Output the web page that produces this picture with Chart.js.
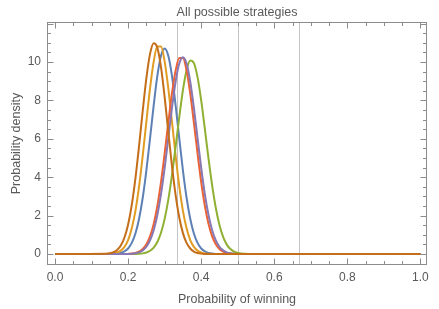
<!DOCTYPE html>
<html>
<head>
<meta charset="utf-8">
<script src="https://cdn.jsdelivr.net/npm/chart.js@4.4.1/dist/chart.umd.min.js"></script>
<style>
  html, body { margin: 0; padding: 0; background: #fff; }
</style>
</head>
<body>
<canvas id="c" width="439" height="309"></canvas>
<script>
// All possible strategies - density of the probability of winning

const xs = [0,
  0.14, 0.15, 0.16, 0.17, 0.18, 0.19, 0.20, 0.21, 0.22, 0.23,
  0.24, 0.25, 0.26, 0.27, 0.28, 0.29, 0.30, 0.31, 0.32, 0.33,
  0.34, 0.35, 0.36, 0.37, 0.38, 0.39, 0.40, 0.41, 0.42, 0.43,
  0.44, 0.45, 0.46, 0.47, 0.48, 0.49, 0.50, 0.51, 0.52, 0.53, 0.54,
  1];

const blueVals = [0,
  0.001, 0.003, 0.009, 0.025, 0.061, 0.14, 0.29, 0.58, 1.07, 1.84,
  2.93, 4.36, 6.02, 7.74, 9.27, 10.32, 10.70, 10.32, 9.27, 7.74,
  6.02, 4.36, 2.93, 1.84, 1.07, 0.58, 0.29, 0.14, 0.061, 0.025,
  0.009, 0.003, 0.001, 0, 0, 0, 0, 0, 0, 0, 0,
  0];

const orangeVals = [0,
  0.004, 0.012, 0.032, 0.078, 0.18, 0.375, 0.73, 1.34, 2.25, 3.52,
  5.12, 6.90, 8.63, 10.02, 10.80, 10.80, 10.02, 8.63, 6.90, 5.12,
  3.52, 2.25, 1.34, 0.73, 0.375, 0.18, 0.078, 0.032, 0.012, 0.004,
  0.001, 0, 0, 0, 0, 0, 0, 0, 0, 0, 0,
  0];

const greenVals = [0,
  0, 0, 0, 0, 0, 0, 0, 0.002, 0.006, 0.014,
  0.035, 0.079, 0.17, 0.34, 0.63, 1.11, 1.83, 2.83, 4.11, 5.59,
  7.12, 8.53, 9.57, 10.07, 9.94, 9.21, 8.00, 6.51, 4.98, 3.57,
  2.40, 1.51, 0.89, 0.49, 0.26, 0.126, 0.058, 0.025, 0.010, 0.004, 0.001,
  0];

const redVals = [0,
  0, 0, 0, 0, 0.001, 0.003, 0.009, 0.023, 0.056, 0.124,
  0.26, 0.51, 0.92, 1.57, 2.51, 3.75, 5.24, 6.84, 8.36, 9.55,
  10.21, 10.21, 9.55, 8.36, 6.84, 5.24, 3.75, 2.51, 1.57, 0.92,
  0.51, 0.26, 0.124, 0.056, 0.023, 0.009, 0.003, 0.001, 0, 0, 0,
  0];

const purpleVals = [0,
  0, 0, 0, 0, 0.001, 0.002, 0.006, 0.016, 0.039, 0.088,
  0.19, 0.38, 0.71, 1.24, 2.03, 3.12, 4.49, 6.04, 7.61, 8.98,
  9.92, 10.25, 9.92, 8.98, 7.61, 6.04, 4.49, 3.12, 2.03, 1.24,
  0.71, 0.38, 0.19, 0.088, 0.039, 0.016, 0.006, 0.002, 0.001, 0, 0,
  0];

const brownVals = [0,
  0.015, 0.039, 0.094, 0.21, 0.44, 0.86, 1.54, 2.56, 3.94, 5.63,
  7.46, 9.16, 10.42, 10.98, 10.74, 9.73, 8.17, 6.36, 4.59, 3.07,
  1.90, 1.09, 0.58, 0.29, 0.13, 0.056, 0.022, 0.008, 0.003, 0.001,
  0, 0, 0, 0, 0, 0, 0, 0, 0, 0, 0,
  0];

const xTicks = [0, 0.2, 0.4, 0.6, 0.8, 1.0];
const yTicks = [0, 2, 4, 6, 8, 10];
const gridX = [1 / 3, 0.5, 2 / 3];

const textColor = '#595959';
const fontFamily = "'Liberation Sans', Arial, sans-serif";

function pts(vals) {
    return xs.map((x, i) => ({ x: x, y: vals[i] }));
}

// first dataset is drawn on top, so the last Mathematica series goes first
const series = [
    { label: 's6', vals: brownVals, color: '#C56E1A' },
    { label: 's5', vals: purpleVals, color: '#8778B3' },
    { label: 's4', vals: redVals, color: '#EB6235' },
    { label: 's3', vals: greenVals, color: '#8FB032' },
    { label: 's2', vals: orangeVals, color: '#E19C24' },
    { label: 's1', vals: blueVals, color: '#5E81B5' }
];

// frame, inward ticks and the reference grid lines
const framePlugin = {
    id: 'frame',
    beforeDatasetsDraw(chart) {
        const { ctx, chartArea: a, scales } = chart;
        ctx.save();
        ctx.strokeStyle = '#c4c4c4';
        ctx.lineWidth = 1;
        gridX.forEach(v => {
            const px = Math.round(scales.x.getPixelForValue(v)) + 0.5;
            ctx.beginPath();
            ctx.moveTo(px, a.top);
            ctx.lineTo(px, a.bottom);
            ctx.stroke();
        });
        ctx.restore();
    },
    afterDatasetsDraw(chart) {
        const { ctx, chartArea: a, scales } = chart;
        ctx.save();
        ctx.strokeStyle = '#8c8c8c';
        ctx.lineWidth = 1;
        const L = Math.round(a.left) + 0.5, R = Math.round(a.right) - 0.5;
        const T = Math.round(a.top) + 0.5, B = Math.round(a.bottom) - 0.5;
        ctx.strokeRect(L, T, R - L, B - T);

        ctx.beginPath();
        for (let k = 0; k <= 20; k++) {
            const v = k * 0.05;
            const major = k % 4 === 0;
            const len = major ? 6 : 3.5;
            const px = Math.round(scales.x.getPixelForValue(v)) + 0.5;
            ctx.moveTo(px, B); ctx.lineTo(px, B - len);
            ctx.moveTo(px, T); ctx.lineTo(px, T + len);
        }
        for (let k = -1; k <= 24; k++) {
            const v = k * 0.5;
            if (v < scales.y.min || v > scales.y.max) continue;
            const major = k % 4 === 0;
            const len = major ? 6 : 3.5;
            const py = Math.round(scales.y.getPixelForValue(v)) + 0.5;
            ctx.moveTo(L, py); ctx.lineTo(L + len, py);
            ctx.moveTo(R, py); ctx.lineTo(R - len, py);
        }
        ctx.stroke();
        ctx.restore();
    }
};

new Chart(document.getElementById('c').getContext('2d'), {
    type: 'line',
    data: {
        datasets: series.map(s => ({
            label: s.label,
            data: pts(s.vals),
            borderColor: s.color,
            backgroundColor: s.color,
            borderWidth: 2,
            pointRadius: 0,
            fill: false,
            cubicInterpolationMode: 'monotone'
        }))
    },
    options: {
        responsive: false,
        animation: false,
        layout: { padding: { left: 0, right: 12, top: 0, bottom: 0 } },
        plugins: {
            legend: { display: false },
            tooltip: { enabled: false },
            title: {
                display: true,
                text: 'All possible strategies',
                fullSize: false,
                color: textColor,
                font: { family: fontFamily, size: 12.5, weight: 'normal' },
                padding: { top: 5, bottom: 2 }
            }
        },
        scales: {
            x: {
                type: 'linear',
                min: -0.022,
                max: 1.018,
                afterBuildTicks: scale => { scale.ticks = xTicks.map(v => ({ value: v })); },
                afterFit: scale => { scale.height = 44; },
                grid: { display: false, drawTicks: false },
                border: { display: false },
                ticks: {
                    color: textColor,
                    font: { family: fontFamily, size: 12 },
                    padding: 5,
                    maxRotation: 0,
                    callback: v => v.toFixed(1)
                },
                title: {
                    display: true,
                    text: 'Probability of winning',
                    color: textColor,
                    font: { family: fontFamily, size: 12.5 },
                    padding: { top: 0, bottom: 2 }
                }
            },
            y: {
                type: 'linear',
                min: -0.57,
                max: 12.08,
                afterBuildTicks: scale => { scale.ticks = yTicks.map(v => ({ value: v })); },
                afterFit: scale => { scale.width = 47; },
                grid: { display: false, drawTicks: false },
                border: { display: false },
                ticks: {
                    color: textColor,
                    font: { family: fontFamily, size: 12 },
                    padding: 6,
                    callback: v => String(v)
                },
                title: {
                    display: true,
                    text: 'Probability density',
                    color: textColor,
                    font: { family: fontFamily, size: 12.5 },
                    padding: { top: 9, bottom: 0 }
                }
            }
        }
    },
    plugins: [framePlugin]
});
</script>
</body>
</html>
